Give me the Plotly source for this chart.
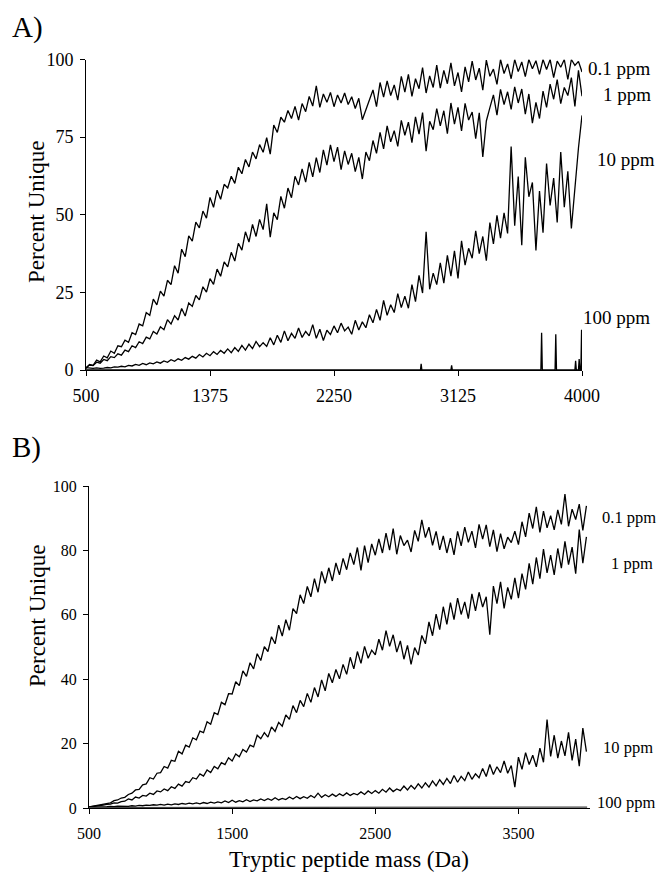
import plotly.graph_objects as go

# ---------------- data ----------------
mass = [500 + 25 * i for i in range(141)]

# Panel A
a_01ppm = [
    0.5, 1.8, 1.5, 3.2, 2.6, 4.5, 3.9, 6.1, 5.4, 7.8,
    7.5, 9.6, 8.9, 12.0, 11.4, 14.8, 14.2, 18.5, 17.6, 22.8,
    21.0, 25.4, 23.8, 28.9, 27.5, 33.6, 31.2, 38.9, 36.5, 43.2,
    41.5, 47.6, 45.8, 51.2, 48.9, 55.6, 52.4, 57.9, 55.0, 59.8,
    58.6, 62.4, 60.1, 65.3, 63.2, 67.8, 65.4, 70.2, 68.0, 72.6,
    70.1, 74.8, 69.5, 78.9, 76.5, 81.4, 79.8, 83.6, 81.0, 84.9,
    80.5, 85.8, 83.2, 88.1, 85.0, 91.5, 84.6, 88.9, 86.2, 89.4,
    84.8, 88.6, 86.0, 89.2, 85.5, 88.0, 84.2, 87.5, 80.6, 83.9,
    86.5, 90.2, 84.8, 92.6, 87.9, 93.1, 88.4, 91.8, 86.9, 94.6,
    89.5, 95.2, 88.1, 93.8, 90.6, 97.4, 89.2, 94.7, 91.0, 98.2,
    90.8, 96.5, 92.2, 98.9, 91.5, 95.8, 89.6, 97.6, 92.8, 99.5,
    93.4, 97.2, 90.1, 99.8, 94.6, 96.9, 92.0, 100, 95.5, 98.6,
    93.8, 100, 96.1, 99.2, 94.5, 100, 97.0, 99.6, 95.2, 100,
    96.8, 100, 94.2, 99.5, 97.5, 100, 93.6, 100, 98.1, 99.4,
    96.0,
]
a_1ppm = [
    0.8, 1.6, 1.4, 2.5, 2.2, 3.4, 3.0, 4.3, 4.0, 5.2,
    4.8, 6.4, 5.9, 7.8, 7.2, 9.1, 8.5, 10.6, 10.0, 12.4,
    11.6, 13.9, 13.0, 16.2, 14.8, 17.5, 16.1, 19.8, 17.4, 21.6,
    20.5, 24.0, 22.6, 26.8, 25.1, 29.4, 27.6, 32.5, 30.2, 34.8,
    33.2, 37.9, 35.1, 40.8, 38.6, 44.5, 41.2, 46.9, 43.0, 48.5,
    45.2, 53.5, 42.8, 50.6, 48.4, 55.9, 52.1, 58.6, 55.5, 62.4,
    59.6, 64.8, 60.5, 66.9, 62.2, 68.4, 63.6, 70.9, 66.0, 72.5,
    67.1, 71.8, 64.5, 70.6, 66.2, 69.8, 63.9, 68.5, 61.5, 70.2,
    67.4, 73.9, 69.8, 76.5, 71.2, 78.6, 73.5, 77.1, 72.0, 80.4,
    75.6, 79.8, 73.2, 81.5, 76.0, 82.9, 70.5, 80.1, 77.4, 84.2,
    78.6, 83.5, 76.1, 86.0, 79.2, 84.6, 77.0, 85.9, 80.5, 83.1,
    74.5, 82.8, 68.6, 80.2, 84.5, 88.6, 82.1, 90.4, 85.5, 89.6,
    83.9, 91.2, 86.0, 90.5, 82.4, 88.9, 79.5, 86.2, 81.0, 89.8,
    84.6, 92.1, 87.2, 93.5, 85.8, 91.0, 88.4, 94.2, 84.9, 96.5,
    88.2,
]
a_10ppm = [
    0.8, 0.6, 0.5, 0.7, 0.5, 0.6, 0.8, 0.7, 1.0, 0.9,
    1.2, 1.0, 1.5, 1.3, 1.8, 1.5, 2.1, 1.7, 2.3, 2.0,
    2.6, 2.2, 2.9, 2.5, 3.3, 2.8, 3.6, 3.1, 4.0, 3.5,
    4.4, 3.8, 5.0, 4.2, 5.4, 4.6, 5.9, 5.0, 6.3, 5.4,
    6.8, 5.6, 7.2, 6.0, 7.9, 6.4, 8.3, 6.9, 9.2, 7.5,
    8.8, 7.6, 10.4, 8.1, 11.2, 8.9, 12.6, 9.4, 11.8, 10.2,
    13.5, 10.5, 12.4, 11.0, 14.6, 10.2, 13.1, 9.5, 12.8, 11.4,
    14.2, 12.0, 15.1, 12.6, 13.8, 11.5, 16.0, 12.9, 15.5, 13.6,
    17.8, 15.2, 19.5, 16.0, 22.4, 17.6, 21.0, 18.5, 24.6, 20.1,
    23.8, 19.9, 27.5, 22.0, 30.5, 24.8, 44.5, 26.0, 31.2, 27.5,
    34.5, 28.0, 36.9, 30.2, 38.4, 29.5, 41.6, 33.8, 39.2, 36.0,
    44.8, 37.5, 43.0, 35.2, 47.5, 40.6, 49.8, 42.5, 50.6, 44.0,
    72.0, 46.5, 62.3, 40.2, 68.5, 55.8, 60.4, 38.5, 57.6, 44.2,
    66.5, 53.0, 61.8, 47.5, 70.2, 52.4, 64.0, 45.6, 58.8, 71.5,
    82.0,
]
a_100ppm_mass = [500, 1500, 2860, 2865, 2870, 3075, 3080, 3085, 3710, 3715,
                 3720, 3810, 3815, 3820, 3950, 3955, 3960, 3975, 3980, 3985,
                 3992, 3997, 4000]
a_100ppm = [0, 0, 0, 2, 0, 0, 1.5, 0, 0, 12,
            0, 0, 11.5, 0, 0, 3, 0, 0, 3.5, 0,
            0, 13, 0]

# Panel B
b_01ppm = [
    0.3, 0.5, 0.6, 0.9, 1.0, 1.4, 1.6, 2.3, 2.5, 3.1,
    3.3, 4.2, 4.6, 5.6, 5.8, 7.2, 7.5, 9.4, 9.0, 10.8,
    11.0, 12.9, 12.4, 14.8, 14.5, 17.6, 16.8, 19.5, 18.9, 21.8,
    21.2, 23.9, 23.4, 26.8, 26.0, 29.6, 29.0, 32.8, 32.1, 35.5,
    35.4, 39.2, 38.0, 42.6, 40.9, 45.1, 43.2, 47.9, 45.8, 50.1,
    48.6, 53.2, 51.0, 56.8, 53.4, 58.5, 55.2, 61.9, 60.4, 66.2,
    63.5, 68.8, 65.6, 71.2, 67.0, 73.5, 69.8, 74.6, 70.5, 76.1,
    72.4, 77.5, 74.0, 79.2, 75.6, 80.9, 73.8, 81.5, 76.2, 82.0,
    78.5, 83.6, 79.2, 85.4, 80.1, 86.8, 78.8, 84.6, 81.5, 83.2,
    79.5, 86.2, 82.8, 89.5, 84.0, 87.2, 81.6, 85.9, 80.2, 84.5,
    79.2, 83.8, 78.6, 85.9, 81.4, 87.2, 82.5, 86.0, 80.8, 88.1,
    83.5, 87.9, 81.2, 86.4, 79.6, 85.2, 80.5, 84.1, 82.4, 86.0,
    81.8, 88.9, 84.2, 91.6, 86.8, 93.5, 85.6, 92.2, 87.0, 90.8,
    86.4, 92.6, 88.1, 97.5, 87.5, 92.8, 89.6, 94.4, 86.2, 93.8,
    91.5,
]
b_1ppm = [
    0.3, 0.4, 0.6, 0.8, 0.9, 1.1, 1.2, 1.6, 1.5, 2.0,
    2.1, 2.8, 2.5, 3.4, 3.1, 3.9, 3.7, 4.6, 4.2, 5.3,
    5.0, 5.9, 5.4, 6.6, 6.1, 7.4, 6.8, 8.2, 7.9, 9.4,
    9.0, 10.6, 9.9, 11.8, 11.0, 12.9, 12.2, 14.1, 13.5, 15.6,
    14.6, 16.8, 15.9, 18.2, 17.4, 19.5, 19.0, 22.6, 21.5, 23.4,
    22.0, 25.2, 23.8, 26.6, 25.4, 28.9, 27.5, 31.8, 29.6, 33.4,
    31.5, 35.6, 32.8, 37.4, 34.5, 39.8, 36.4, 41.8, 38.9, 43.0,
    40.1, 44.6, 41.5, 46.8, 43.2, 48.6, 44.9, 50.2, 46.5, 49.0,
    47.6, 52.4, 49.0, 55.1, 50.2, 53.8, 48.4, 51.9, 46.2, 50.5,
    44.6, 49.8, 47.5, 53.6, 51.0, 57.8, 53.5, 60.2, 55.4, 62.5,
    57.0, 63.8, 58.5, 65.2, 60.1, 64.0, 58.8, 66.5, 61.2, 67.0,
    62.4, 65.6, 53.8, 68.9, 63.5, 70.2, 62.0, 68.5, 64.8, 71.5,
    65.2, 72.8, 67.9, 76.0, 69.5, 77.8, 71.2, 80.4, 73.0, 78.5,
    72.4, 80.6, 74.5, 82.8, 75.6, 81.0, 72.8, 86.5, 76.0, 84.2,
    74.5,
]
b_10ppm = [
    0.2, 0.2, 0.3, 0.3, 0.4, 0.4, 0.5, 0.4, 0.6, 0.5,
    0.6, 0.5, 0.7, 0.6, 0.8, 0.7, 0.9, 0.8, 1.0, 0.9,
    1.1, 0.9, 1.2, 1.0, 1.3, 1.1, 1.4, 1.2, 1.5, 1.3,
    1.6, 1.3, 1.7, 1.4, 1.8, 1.5, 1.9, 1.6, 2.2, 1.7,
    2.4, 1.8, 2.3, 1.9, 2.6, 2.0, 2.5, 2.2, 2.8, 2.3,
    2.9, 2.4, 3.2, 2.5, 3.0, 2.6, 3.4, 2.8, 3.6, 2.9,
    3.5, 3.0, 3.9, 3.2, 4.6, 3.3, 4.1, 3.5, 4.3, 3.6,
    4.4, 3.8, 4.7, 3.9, 4.5, 4.1, 5.0, 4.2, 5.3, 4.5,
    5.4, 4.6, 5.8, 4.9, 6.2, 5.1, 5.9, 5.4, 6.8, 5.6,
    7.0, 5.9, 7.5, 6.2, 7.8, 6.5, 8.4, 6.9, 8.8, 7.3,
    9.2, 7.6, 10.1, 8.0, 9.8, 8.5, 11.2, 8.9, 10.6, 9.4,
    12.3, 9.8, 13.5, 10.4, 12.8, 11.0, 14.6, 10.8, 13.2, 6.5,
    15.8, 12.0, 17.2, 13.5, 16.4, 12.8, 18.6, 14.2, 27.5, 16.0,
    22.6, 15.5, 20.8, 16.2, 23.5, 14.8, 21.4, 13.0, 24.8, 17.5,
    22.0,
]
b_100ppm_mass = [500, 1000, 1500, 2000, 2500, 3000, 3500, 3980]
b_100ppm = [0.1, 0.1, 0.1, 0.2, 0.2, 0.2, 0.3, 0.3]

a_xticks = [500, 1375, 2250, 3125, 4000]
a_yticks = [0, 25, 50, 75, 100]
b_xticks = [500, 1500, 2500, 3500]
b_yticks = [0, 20, 40, 60, 80, 100]

# ---------------- figure ----------------
W, H = 658, 878
FONT = "Liberation Serif"
line = dict(color="black", width=1.3)

fig = go.Figure()
for y in (a_01ppm, a_1ppm, a_10ppm):
    fig.add_trace(go.Scatter(x=mass, y=y, mode="lines", line=line,
                             xaxis="x", yaxis="y", showlegend=False, hoverinfo="skip"))
fig.add_trace(go.Scatter(x=a_100ppm_mass, y=a_100ppm, mode="lines", line=line,
                         xaxis="x", yaxis="y", showlegend=False, hoverinfo="skip"))
for y in (b_01ppm, b_1ppm, b_10ppm):
    fig.add_trace(go.Scatter(x=mass[:-1], y=y[:-1], mode="lines", line=line,
                             xaxis="x2", yaxis="y2", showlegend=False, hoverinfo="skip"))
fig.add_trace(go.Scatter(x=b_100ppm_mass, y=b_100ppm, mode="lines",
                         line=dict(color="#444", width=1.2),
                         xaxis="x2", yaxis="y2", showlegend=False, hoverinfo="skip"))

def px(x):
    return x / W

def py(y):
    return 1 - y / H

axis_common = dict(showgrid=False, zeroline=False, showline=True, linecolor="black",
                   linewidth=1, ticks="outside", ticklen=5, tickcolor="black",
                   tickwidth=1, fixedrange=True, automargin=False)

fig.update_layout(
    width=W, height=H, margin=dict(l=0, r=0, t=0, b=0, autoexpand=False),
    paper_bgcolor="white", plot_bgcolor="white",
    font=dict(family=FONT, color="black"),
    xaxis=dict(domain=[px(86), px(582)], range=[500, 4000], tickvals=a_xticks,
               anchor="y", tickfont=dict(size=18), ticklabelstandoff=4, **axis_common),
    yaxis=dict(domain=[py(370), py(59.5)], range=[0, 100], tickvals=a_yticks,
               anchor="x", tickfont=dict(size=18), ticklabelstandoff=3, **axis_common),
    xaxis2=dict(domain=[px(89), px(590)], range=[500, 4000], tickvals=b_xticks,
                anchor="y2", tickfont=dict(size=16), ticklabelstandoff=6, **axis_common),
    yaxis2=dict(domain=[py(808), py(486)], range=[0, 100], tickvals=b_yticks,
                anchor="x2", tickfont=dict(size=16), ticklabelstandoff=3, **axis_common),
)

ann = []
def text(t, x, y, size, xanchor="left", angle=0):
    ann.append(dict(text=t, x=px(x), y=py(y), xref="paper", yref="paper",
                    xanchor=xanchor, yanchor="middle", showarrow=False,
                    textangle=angle, font=dict(family=FONT, size=size, color="black")))

text("A)", 10, 27, 29)
text("B)", 10, 447, 29)
text("Percent Unique", 37, 212, 23, xanchor="center", angle=-90)
text("Percent Unique", 37, 616, 23, xanchor="center", angle=-90)
text("Tryptic peptide mass (Da)", 349, 859, 23, xanchor="center")

text("0.1 ppm", 586, 68, 19)
text("1 ppm", 601, 95, 19)
text("10 ppm", 595, 159, 19)
text("100 ppm", 581, 317, 19)
text("0.1 ppm", 600, 517, 16.5)
text("1 ppm", 609, 563, 16.5)
text("10 ppm", 601, 747, 16.5)
text("100 ppm", 595, 802, 16.5)

fig.update_layout(annotations=ann)
# remove the default 8 px page margin and scrollbars so the figure fills the window
fig.write_html(
    "out.html",
    config={"displayModeBar": False},
    post_script="document.body.style.margin='0';document.body.style.overflow='hidden';",
)
